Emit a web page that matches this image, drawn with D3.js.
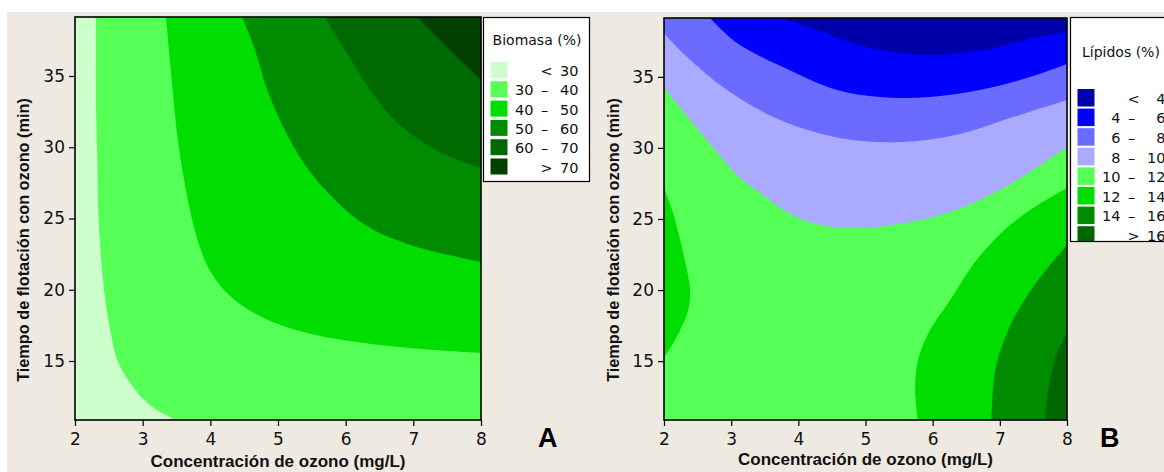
<!DOCTYPE html>
<html><head><meta charset="utf-8">
<script src="https://cdn.jsdelivr.net/npm/d3@7"></script>
<style>body{margin:0;background:#fff}svg{display:block}</style>
</head><body><svg id="c" width="1164" height="472"></svg>
<script>
// ---------- data ----------
const xTicks = [2, 3, 4, 5, 6, 7, 8];
const yTicks = [15, 20, 25, 30, 35];
const xDomain = [2, 8];
const yDomain = [10.86, 39.14];

const xTitle = "Concentración de ozono (mg/L)";
const yTitle = "Tiempo de flotación con ozono (min)";

const biomasaTitle = "Biomasa (%)";
const biomasaLabels = [["", "<", "30"], ["30", "–", "40"], ["40", "–", "50"], ["50", "–", "60"], ["60", "–", "70"], ["", ">", "70"]];
const biomasaColors = ["#CCFFCC", "#55FF55", "#00DD00", "#008C00", "#006A00", "#004000"];
const biomasaBase = 0;
// contour lines (x in mg/L, y in min); band = colour index beyond the line
const biomasaContours = [
  { level: 30, band: 1, pts: [[2.31, 39.14], [2.31, 33.3], [2.33, 29.1], [2.35, 24.9], [2.43, 20.0], [2.52, 17.2], [2.64, 14.9], [2.89, 13.0], [3.11, 11.9], [3.49, 10.86]], close: [[8, 10.86], [8, 39.14]] },
  { level: 40, band: 2, pts: [[3.345, 39.14], [3.43, 34.72], [3.52, 30.51], [3.64, 27.0], [3.79, 23.84], [3.99, 21.39], [4.29, 19.56], [4.73, 18.16], [5.32, 17.10], [6.06, 16.40], [6.95, 15.91], [8.0, 15.56]], close: [[8, 39.14]] },
  { level: 50, band: 3, pts: [[4.47, 39.14], [4.66, 36.82], [4.84, 34.02], [5.10, 31.21], [5.40, 28.75], [5.77, 26.65], [6.29, 24.54], [6.95, 23.14], [8.0, 21.95]], close: [[8, 39.14]] },
  { level: 60, band: 4, pts: [[5.69, 39.14], [5.99, 36.82], [6.36, 34.02], [6.80, 31.56], [7.39, 29.67], [8.0, 28.54]], close: [[8, 39.14]] },
  { level: 70, band: 5, pts: [[7.05, 39.14], [7.39, 37.53], [7.69, 36.12], [8.0, 34.72]], close: [[8, 39.14]] }
];

const lipidosTitle = "Lípidos (%)";
const lipidosLabels = [["", "<", "4"], ["4", "–", "6"], ["6", "–", "8"], ["8", "–", "10"], ["10", "–", "12"], ["12", "–", "14"], ["14", "–", "16"], ["", ">", "16"]];
const lipidosColors = ["#0000AA", "#0000FF", "#6B6BFF", "#AAAAFF", "#55FF55", "#00DD00", "#008C00", "#006600"];
const lipidosBase = 4;
const lipidosContours = [
  { level: 10, band: 3, pts: [[2.0, 34.21], [2.39, 31.96], [2.76, 29.85], [3.13, 27.88], [3.43, 26.83], [3.83, 25.49], [4.17, 24.78], [4.77, 24.36], [5.51, 24.64], [6.26, 25.49], [7.00, 27.04], [7.60, 28.79], [8.0, 30.06]], close: [[8, 39.14], [2, 39.14]] },
  { level: 8, band: 2, pts: [[2.0, 38.08], [2.28, 36.68], [2.94, 34.07], [3.73, 31.96], [4.62, 30.70], [5.51, 30.41], [6.41, 30.98], [7.15, 32.10], [8.0, 33.37]], close: [[8, 39.14], [2, 39.14]] },
  { level: 6, band: 1, pts: [[2.685, 39.14], [3.087, 37.38], [3.77, 35.69], [4.58, 34.07], [5.22, 33.58], [5.96, 33.58], [6.70, 34.07], [7.45, 34.99], [8.0, 35.90]], close: [[8, 39.14]] },
  { level: 4, band: 0, pts: [[3.757, 39.14], [4.28, 38.30], [5.02, 37.10], [5.86, 36.54], [6.75, 36.89], [7.49, 37.73], [8.0, 38.15]], close: [[8, 39.14]] },
  { level: 12, band: 5, pts: [[2.0, 27.18], [2.12, 25.63], [2.24, 23.52], [2.34, 21.41], [2.39, 20.0], [2.36, 18.59], [2.24, 17.18], [2.09, 15.92], [2.0, 15.28]], close: [] },
  { level: 12, band: 5, pts: [[5.78, 10.86], [5.74, 12.96], [5.78, 15.07], [5.96, 17.18], [6.26, 19.29], [6.63, 21.97], [6.85, 23.17], [7.05, 24.15], [7.45, 25.63], [8.0, 27.18]], close: [[8, 10.86]] },
  { level: 14, band: 6, pts: [[6.87, 10.86], [6.88, 11.55], [6.93, 14.37], [7.08, 16.69], [7.30, 18.80], [7.60, 20.91], [8.0, 23.17]], close: [[8, 10.86]] },
  { level: 16, band: 7, pts: [[7.67, 10.86], [7.72, 12.96], [7.85, 15.57], [8.0, 16.97]], close: [[8, 10.86]] }
];

// ---------- drawing ----------
const svg = d3.select("#c");
svg.append("rect").attr("x", 7).attr("y", 12).attr("width", 1157).attr("height", 460).attr("fill", "#EEEAE1");

const tickFont = "'DejaVu Sans', Verdana, sans-serif";
const titleFont = "'Liberation Sans', Arial, sans-serif";

function drawPanel(P, id, base, contours, colors) {
  const g = svg.append("g");
  const x = d3.scaleLinear().domain(xDomain).range([P.l, P.r]);
  const y = d3.scaleLinear().domain(yDomain).range([P.b, P.t]);
  svg.append("defs").append("clipPath").attr("id", id)
    .append("rect").attr("x", P.l).attr("y", P.t).attr("width", P.r - P.l).attr("height", P.b - P.t);
  const area = g.append("g").attr("clip-path", `url(#${id})`);
  area.append("rect").attr("x", P.l).attr("y", P.t).attr("width", P.r - P.l).attr("height", P.b - P.t).attr("fill", colors[base]);
  const line = d3.line().x(d => x(d[0])).y(d => y(d[1])).curve(d3.curveCatmullRom.alpha(0.5));
  contours.forEach(c => {
    let d = line(c.pts);
    c.close.forEach(p => { d += `L${x(p[0])},${y(p[1])}`; });
    d += "Z";
    area.append("path").attr("d", d).attr("fill", colors[c.band]);
  });
  // axes
  const xa = g.append("g").attr("transform", `translate(0,${P.b})`)
    .call(d3.axisBottom(x).tickValues(xTicks).tickSize(6).tickPadding(7).tickFormat(d3.format("d")));
  const ya = g.append("g").attr("transform", `translate(${P.l},0)`)
    .call(d3.axisLeft(y).tickValues(yTicks).tickSize(6).tickPadding(4).tickFormat(d3.format("d")));
  [xa, ya].forEach(a => {
    a.select(".domain").remove();
    a.selectAll("line").attr("stroke", "#000").attr("stroke-width", 1.2);
    a.selectAll("text").attr("font-family", tickFont).attr("font-size", 17).attr("fill", "#111");
  });
  g.append("rect").attr("x", P.l).attr("y", P.t).attr("width", P.r - P.l).attr("height", P.b - P.t)
    .attr("fill", "none").attr("stroke", "#000").attr("stroke-width", 1.6);
  // titles
  g.append("text").attr("x", (P.l + P.r) / 2 + P.xtdx).attr("y", P.xty).attr("text-anchor", "middle")
    .attr("font-family", titleFont).attr("font-weight", "bold").attr("font-size", 17).attr("fill", "#111").text(xTitle);
  g.append("text").attr("transform", `translate(${P.ytx},240) rotate(-90)`).attr("text-anchor", "middle")
    .attr("font-family", titleFont).attr("font-weight", "bold").attr("font-size", 16.3).attr("fill", "#111").text(yTitle);
  g.append("text").attr("x", P.lx).attr("y", 447).attr("font-family", titleFont).attr("font-weight", "bold")
    .attr("font-size", 27).attr("fill", "#000").text(P.letter);
}

function drawLegend(L, id, title, labels, colors) {
  const g = svg.append("g");
  svg.append("defs").append("clipPath").attr("id", id)
    .append("rect").attr("x", L.x).attr("y", L.y).attr("width", L.w).attr("height", L.h);
  g.append("rect").attr("x", L.x).attr("y", L.y).attr("width", L.w).attr("height", L.h).attr("fill", "#fff");
  const c = g.append("g").attr("clip-path", `url(#${id})`);
  c.append("text").attr("x", L.tx).attr("y", L.ty).attr("text-anchor", L.tanchor)
    .attr("font-family", tickFont).attr("font-size", 14).attr("fill", "#111").text(title);
  labels.forEach((lab, i) => {
    const top = L.r0 + i * L.dr;
    c.append("rect").attr("x", L.x + 7).attr("y", top).attr("width", 17).attr("height", L.sh).attr("fill", colors[i]);
    const by = top + L.sh / 2 + 6;
    const f = s => s.attr("font-family", tickFont).attr("font-size", 14.5).attr("fill", "#111");
    if (lab[0]) f(c.append("text").attr("x", L.x + 50).attr("y", by).attr("text-anchor", "end").text(lab[0]));
    f(c.append("text").attr("x", L.x + (lab[0] ? 61 : 63)).attr("y", by).attr("text-anchor", "middle").text(lab[1]));
    f(c.append("text").attr("x", L.x + 95).attr("y", by).attr("text-anchor", "end").text(lab[2]));
  });
  g.append("rect").attr("x", L.x).attr("y", L.y).attr("width", L.w).attr("height", L.h)
    .attr("fill", "none").attr("stroke", "#000").attr("stroke-width", 1.2);
}

drawPanel({ l: 75, r: 481, t: 17, b: 420, xty: 467, xtdx: 0, ytx: 29, lx: 538, letter: "A" }, "clipA", biomasaBase, biomasaContours, biomasaColors);
drawPanel({ l: 664, r: 1067, t: 18, b: 420, xty: 465, xtdx: 0, ytx: 619, lx: 1100, letter: "B" }, "clipB", lipidosBase, lipidosContours, lipidosColors);

drawLegend({ x: 483.5, y: 17.5, w: 106, h: 164, tx: 537, ty: 45, tanchor: "middle", r0: 62, dr: 19.3, sh: 16 }, "clipLA", biomasaTitle, biomasaLabels, biomasaColors);
drawLegend({ x: 1070.5, y: 17.5, w: 110, h: 224, tx: 1082, ty: 57, tanchor: "start", r0: 89, dr: 19.6, sh: 17.5 }, "clipLB", lipidosTitle, lipidosLabels, lipidosColors);
</script></body></html>
